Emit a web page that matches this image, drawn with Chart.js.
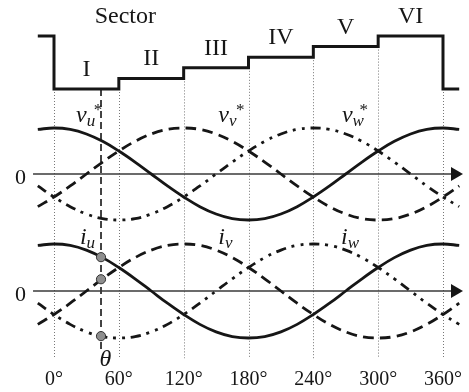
<!DOCTYPE html>
<html>
<head>
<meta charset="utf-8">
<script src="https://cdn.jsdelivr.net/npm/chart.js@4"></script>
<style>
  html, body { margin: 0; padding: 0; background: #fff; }
  canvas { display: block; }
</style>
</head>
<body>
<canvas id="c" width="469" height="392"></canvas>
<script>
// Electrical angle samples (degrees)
const angles = [-15, 0, 15, 30, 45, 60, 75, 90, 105, 120, 135, 150, 165, 180, 195,
                210, 225, 240, 255, 270, 285, 300, 315, 330, 345, 360, 375];

// Reference phase voltages v*u, v*v, v*w (per unit)
const vU = [0.97, 1, 0.97, 0.87, 0.71, 0.5, 0.26, 0, -0.26, -0.5, -0.71, -0.87, -0.97, -1,
            -0.97, -0.87, -0.71, -0.5, -0.26, 0, 0.26, 0.5, 0.71, 0.87, 0.97, 1, 0.97];
const vV = [-0.71, -0.5, -0.26, 0, 0.26, 0.5, 0.71, 0.87, 0.97, 1, 0.97, 0.87, 0.71, 0.5,
            0.26, 0, -0.26, -0.5, -0.71, -0.87, -0.97, -1, -0.97, -0.87, -0.71, -0.5, -0.26];
const vW = [-0.26, -0.5, -0.71, -0.87, -0.97, -1, -0.97, -0.87, -0.71, -0.5, -0.26, 0, 0.26, 0.5,
            0.71, 0.87, 0.97, 1, 0.97, 0.87, 0.71, 0.5, 0.26, 0, -0.26, -0.5, -0.71];

// Phase currents iu, iv, iw (per unit)
const iU = [0.97, 1, 0.97, 0.87, 0.71, 0.5, 0.26, 0, -0.26, -0.5, -0.71, -0.87, -0.97, -1,
            -0.97, -0.87, -0.71, -0.5, -0.26, 0, 0.26, 0.5, 0.71, 0.87, 0.97, 1, 0.97];
const iV = [-0.71, -0.5, -0.26, 0, 0.26, 0.5, 0.71, 0.87, 0.97, 1, 0.97, 0.87, 0.71, 0.5,
            0.26, 0, -0.26, -0.5, -0.71, -0.87, -0.97, -1, -0.97, -0.87, -0.71, -0.5, -0.26];
const iW = [-0.26, -0.5, -0.71, -0.87, -0.97, -1, -0.97, -0.87, -0.71, -0.5, -0.26, 0, 0.26, 0.5,
            0.71, 0.87, 0.97, 1, 0.97, 0.87, 0.71, 0.5, 0.26, 0, -0.26, -0.5, -0.71];

// Sectors: start angle, name and step level
const sectorStart = [0, 60, 120, 180, 240, 300];
const sectorNames = ['I', 'II', 'III', 'IV', 'V', 'VI'];
const sectorLevel = [1, 2, 3, 4, 5, 6];

// Angle axis ticks
const tickDegrees = [0, 60, 120, 180, 240, 300, 360];

// Sampling instant theta and the currents sampled there
const thetaDeg = 43.5;
const thetaCurrents = [0.72, 0.25, -0.96];

// ---------------------------------------------------------------------------
const SERIF = '"Liberation Serif", "Times New Roman", serif';
const INK = '#161616';
const AREA_TOP = 0, AREA_BOTTOM = 365;   // plot area (x axis box fixed below)

// min/max of a hidden y axis so that value a sits at pixel pa and b at pb
function axisRange(a, pa, b, pb) {
  const k = (a - b) / (pb - pa);
  return { min: a - (AREA_BOTTOM - pa) * k, max: a + (pa - AREA_TOP) * k };
}
const rSector = axisRange(1, 89, 6, 36);
const rV = axisRange(0, 174, 1, 128);
const rI = axisRange(0, 291, 1, 244);

const xy = (ys) => ys.map((y, i) => ({ x: angles[i], y }));
const lastAngle = angles[angles.length - 1];

// Sector step trace: tail of VI, then I..VI, then I again
const stepPoints = [{ x: angles[0], y: sectorLevel[5] }]
  .concat(sectorStart.map((s, i) => ({ x: s, y: sectorLevel[i] })))
  .concat([{ x: 360, y: sectorLevel[0] }, { x: lastAngle, y: sectorLevel[0] }]);

const DASH = [11, 6];
const DASH_DOT_DOT = [10, 6, 3, 6, 3, 6];

function wave(data, axis, dash) {
  return {
    data: xy(data), yAxisID: axis, borderColor: INK, borderWidth: 2.8,
    borderDash: dash || [], pointRadius: 0, tension: 0.4, fill: false
  };
}
function zeroAxis(axis) {
  return {
    data: [{ x: -19.4, y: 0 }, { x: 371.1, y: 0 }], yAxisID: axis,
    borderColor: '#3a3a3a', borderWidth: 1.4, pointRadius: [0, 8],
    pointStyle: 'triangle', pointRotation: 90, pointBackgroundColor: INK,
    pointBorderWidth: 0, pointHoverRadius: 0
  };
}

function sectorAt(deg) {
  const d = ((deg % 360) + 360) % 360;
  return sectorLevel[Math.floor(d / 60)];
}

// Dotted sector boundaries and the dashed theta marker
const guides = {
  id: 'guides',
  beforeDatasetsDraw(chart) {
    const { ctx, scales } = chart;
    const x = scales.x, ys = scales.ySector, yi = scales.yI;
    ctx.save();
    ctx.strokeStyle = '#777';
    ctx.lineWidth = 1;
    ctx.setLineDash([1, 2]);
    tickDegrees.forEach((deg) => {
      const low = Math.min(sectorAt(deg - 1), sectorAt(deg === 360 ? 0 : deg));
      const px = Math.round(x.getPixelForValue(deg)) + 0.5;
      ctx.beginPath();
      ctx.moveTo(px, ys.getPixelForValue(low));
      ctx.lineTo(px, yi.getPixelForValue(-1.43));
      ctx.stroke();
    });
    ctx.strokeStyle = INK;
    ctx.lineWidth = 1.6;
    ctx.setLineDash([7, 4]);
    const tx = x.getPixelForValue(thetaDeg);
    ctx.beginPath();
    ctx.moveTo(tx, ys.getPixelForValue(sectorAt(thetaDeg)));
    ctx.lineTo(tx, yi.getPixelForValue(-1.24));
    ctx.stroke();
    ctx.restore();
  }
};

function drawVar(ctx, main, sub, sup, x, y) {
  ctx.textAlign = 'left';
  ctx.font = `italic 24px ${SERIF}`;
  ctx.fillText(main, x, y);
  const w = ctx.measureText(main).width;
  ctx.font = `italic 17px ${SERIF}`;
  ctx.fillText(sub, x + w, y + 4);
  if (sup) {
    ctx.font = `17px ${SERIF}`;
    ctx.fillText(sup, x + w + 7, y - 7);
  }
}

// Text annotations
const annotations = {
  id: 'annotations',
  afterDatasetsDraw(chart) {
    const { ctx, scales } = chart;
    const x = scales.x, ys = scales.ySector, yv = scales.yV, yi = scales.yI;
    ctx.save();
    ctx.fillStyle = INK;
    ctx.textBaseline = 'alphabetic';

    ctx.font = `24px ${SERIF}`;
    ctx.textAlign = 'center';
    ctx.fillText('Sector', x.getPixelForValue(66), ys.getPixelForValue(6) - 13);
    sectorNames.forEach((name, i) => {
      ctx.fillText(name, x.getPixelForValue(sectorStart[i] + 30),
                   ys.getPixelForValue(sectorLevel[i]) - 13);
    });

    ctx.font = `22px ${SERIF}`;
    ctx.textAlign = 'right';
    ctx.fillText('0', x.getPixelForValue(-25.9), yv.getPixelForValue(0) + 10);
    ctx.fillText('0', x.getPixelForValue(-25.9), yi.getPixelForValue(0) + 10);

    drawVar(ctx, 'v', 'u', '*', x.getPixelForValue(20.4), yv.getPixelForValue(1.13));
    drawVar(ctx, 'v', 'v', '*', x.getPixelForValue(152), yv.getPixelForValue(1.13));
    drawVar(ctx, 'v', 'w', '*', x.getPixelForValue(266.5), yv.getPixelForValue(1.13));
    drawVar(ctx, 'i', 'u', null, x.getPixelForValue(24), yi.getPixelForValue(1.0));
    drawVar(ctx, 'i', 'v', null, x.getPixelForValue(152), yi.getPixelForValue(1.0));
    drawVar(ctx, 'i', 'w', null, x.getPixelForValue(265.6), yi.getPixelForValue(1.0));

    ctx.font = `italic 24px ${SERIF}`;
    ctx.textAlign = 'left';
    ctx.fillText('\u03B8', x.getPixelForValue(thetaDeg) - 1.5, yi.getPixelForValue(-1.6));
    ctx.restore();
  }
};

new Chart(document.getElementById('c'), {
  type: 'line',
  data: {
    datasets: [
      {
        data: thetaCurrents.map((y) => ({ x: thetaDeg, y })), yAxisID: 'yI',
        showLine: false, pointRadius: 4.6, pointHoverRadius: 4.6,
        pointBackgroundColor: '#8e8e8e', pointBorderColor: '#333', pointBorderWidth: 1
      },
      wave(iU, 'yI'),
      wave(iV, 'yI', DASH),
      wave(iW, 'yI', DASH_DOT_DOT),
      wave(vU, 'yV'),
      wave(vV, 'yV', DASH),
      wave(vW, 'yV', DASH_DOT_DOT),
      {
        data: stepPoints, yAxisID: 'ySector', stepped: 'before',
        borderColor: INK, borderWidth: 3, pointRadius: 0
      },
      zeroAxis('yV'),
      zeroAxis('yI')
    ]
  },
  options: {
    responsive: false,
    animation: false,
    events: [],
    layout: { autoPadding: false, padding: { left: 32.39, right: 4.39, top: AREA_TOP, bottom: 0 } },
    plugins: { legend: { display: false }, tooltip: { enabled: false } },
    scales: {
      x: {
        type: 'linear', min: -20, max: 380,
        afterBuildTicks: (s) => { s.ticks = tickDegrees.map((v) => ({ value: v })); },
        afterFit: (s) => { s.height = 392 - AREA_BOTTOM; },
        grid: { display: false, drawTicks: false },
        border: { display: false },
        ticks: {
          font: { family: SERIF, size: 20 }, color: INK, padding: 3,
          maxRotation: 0, autoSkip: false, callback: (v) => v + '\u00B0'
        }
      },
      ySector: { display: false, min: rSector.min, max: rSector.max },
      yV: { display: false, min: rV.min, max: rV.max },
      yI: { display: false, min: rI.min, max: rI.max }
    }
  },
  plugins: [guides, annotations]
});
</script>
</body>
</html>
